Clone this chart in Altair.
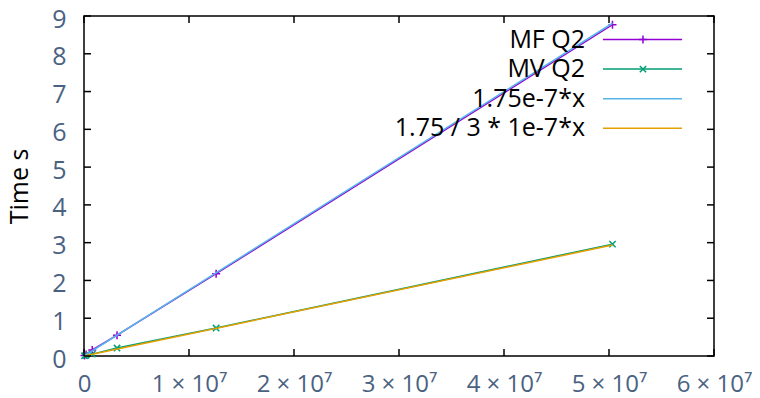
import altair as alt
import pandas as pd

# ---- data ----
sizes = [49152, 196608, 786432, 3145728, 12582912, 50331648]
mf_times = [0.01, 0.04, 0.16, 0.55, 2.18, 8.77]
mv_times = [0.005, 0.02, 0.05, 0.21, 0.74, 2.96]
fit_x = [0, 50331648]
fit_coef_fast = 1.75e-7
fit_coef_slow = 1.75 / 3 * 1e-7
series_names = ["MF Q2", "MV Q2", "1.75e-7*x", "1.75 / 3 * 1e-7*x"]
series_colors = ["#9400d3", "#009e73", "#56b4e9", "#e69f00"]
x_ticks = [0, 1e7, 2e7, 3e7, 4e7, 5e7, 6e7]
y_ticks = [0, 1, 2, 3, 4, 5, 6, 7, 8, 9]

W, H = 630, 340
FONT = "Open Sans"
LABEL_COLOR = "#4a6282"
FS = 25

mf = pd.DataFrame({"x": sizes, "y": mf_times})
mv = pd.DataFrame({"x": sizes, "y": mv_times})
f1 = pd.DataFrame({"x": fit_x, "y": [fit_coef_fast * v for v in fit_x]})
f2 = pd.DataFrame({"x": fit_x, "y": [fit_coef_slow * v for v in fit_x]})

xscale = alt.Scale(domain=[0, 6e7], nice=False, zero=False)
yscale = alt.Scale(domain=[0, 9], nice=False, zero=False)

plus_shape = "M-1,0L1,0M0,-1L0,1"
x_shape = "M-1,-1L1,1M-1,1L1,-1"

xaxis = alt.Axis(values=x_ticks, ticks=False, grid=False, domain=False,
                 labelExpr="datum.value == 0 ? '0' : format(datum.value/1e7, 'd') + ' × 10⁷'",
                 labelPadding=16, labelFontSize=24, labelColor=LABEL_COLOR, labelFont=FONT,
                 labelFlush=False, labelOverlap=False, title=None)
yaxis = alt.Axis(values=y_ticks, ticks=False, grid=False, domain=False, format="d",
                 labelPadding=18, labelFontSize=FS, labelColor=LABEL_COLOR, labelFont=FONT,
                 labelFlush=False, labelOverlap=False, labelOffset=3,
                 title="Time s", titleFontSize=25, titleFont=FONT, titleFontWeight="normal",
                 titleColor="black", titleX=-57, titleY=H / 2, titleAngle=-90,
                 titleAlign="center", titleBaseline="alphabetic")

X = alt.X("x:Q", scale=xscale, axis=xaxis)
Y = alt.Y("y:Q", scale=yscale, axis=yaxis)


def data_series(df, color, shape, size):
    line = alt.Chart(df).mark_line(color=color, strokeWidth=1.5).encode(x=X, y=Y)
    pts = alt.Chart(df).mark_point(shape=shape, color=color, filled=False, size=size,
                                   strokeWidth=1.5, opacity=1).encode(x=X, y=Y)
    return [line, pts]


layers = []
layers += data_series(mf, series_colors[0], plus_shape, 64)
layers += data_series(mv, series_colors[1], x_shape, 40)
layers.append(alt.Chart(f1).mark_line(color=series_colors[2], strokeWidth=1.5).encode(x=X, y=Y))
layers.append(alt.Chart(f2).mark_line(color=series_colors[3], strokeWidth=1.5).encode(x=X, y=Y))

# inward ticks on all four sides
xt = pd.DataFrame({"x": x_ticks})
yt = pd.DataFrame({"y": y_ticks})
TL = 7
layers.append(alt.Chart(xt).mark_rule(color="black", strokeWidth=1.5).encode(
    x=alt.X("x:Q", scale=xscale, axis=xaxis), y=alt.value(H), y2=alt.value(H - TL)))
layers.append(alt.Chart(xt).mark_rule(color="black", strokeWidth=1.5).encode(
    x=alt.X("x:Q", scale=xscale, axis=xaxis), y=alt.value(0), y2=alt.value(TL)))
layers.append(alt.Chart(yt).mark_rule(color="black", strokeWidth=1.5).encode(
    y=alt.Y("y:Q", scale=yscale, axis=yaxis), x=alt.value(0), x2=alt.value(TL)))
layers.append(alt.Chart(yt).mark_rule(color="black", strokeWidth=1.5).encode(
    y=alt.Y("y:Q", scale=yscale, axis=yaxis), x=alt.value(W - TL), x2=alt.value(W)))

# gnuplot-style key: text right-aligned, sample to its right
key_shapes = [plus_shape, x_shape, None, None]
key_sizes = [64, 40, 0, 0]
for i, (name, color) in enumerate(zip(series_names, series_colors)):
    yy = 23.5 + 29.6 * i
    kd = pd.DataFrame({"label": [name]})
    layers.append(alt.Chart(kd).mark_text(align="right", baseline="middle", fontSize=FS,
                                          font=FONT, color="black").encode(
        x=alt.value(501), y=alt.value(yy), text="label:N"))
    layers.append(alt.Chart(kd).mark_rule(color=color, strokeWidth=1.5).encode(
        x=alt.value(519), x2=alt.value(598), y=alt.value(yy)))
    if key_shapes[i]:
        layers.append(alt.Chart(kd).mark_point(shape=key_shapes[i], color=color, filled=False,
                                               size=key_sizes[i], strokeWidth=1.5, opacity=1).encode(
            x=alt.value(559), y=alt.value(yy)))

chart = alt.layer(*layers).properties(
    width=W, height=H,
    autosize=alt.AutoSizeParams(type="none"),
    padding={"left": 76, "top": 8, "right": 38, "bottom": 42},
    background="white",
).configure_view(stroke="black", strokeWidth=1.5)

chart.save("out.html", embed_options={"renderer": "svg", "actions": False})
